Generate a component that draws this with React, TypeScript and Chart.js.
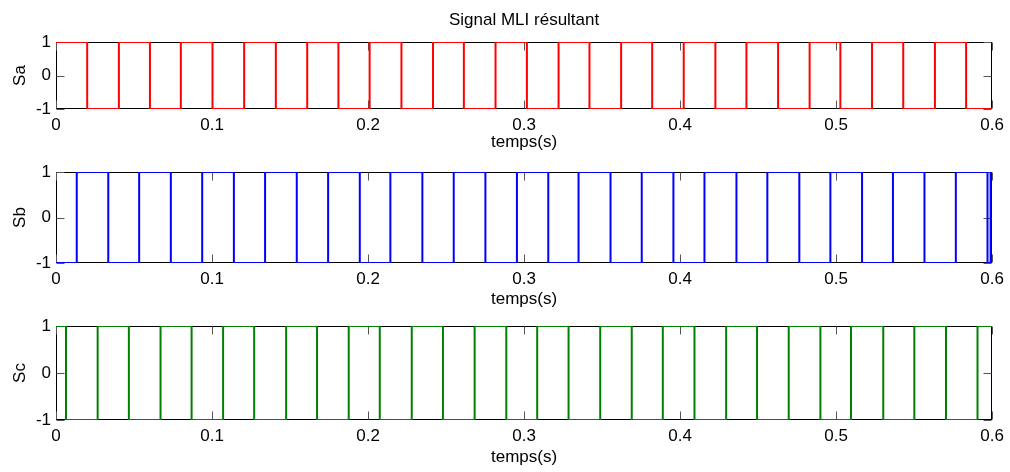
import React, { useEffect, useRef } from 'react';
import { Chart, registerables } from 'chart.js';

Chart.register(...registerables);

const xTickValues = [0, 0.1, 0.2, 0.3, 0.4, 0.5, 0.6];
const xTickLabels = ['0', '0.1', '0.2', '0.3', '0.4', '0.5', '0.6'];
const yTickValues = [-1, 0, 1];
const yTickLabels = ['-1', '0', '1'];

const saTimes = [0, 0.0200, 0.0403, 0.0602, 0.0800, 0.1003, 0.1206, 0.1409, 0.1610, 0.1810, 0.2010, 0.2214, 0.2416, 0.2614, 0.2817, 0.3018, 0.3221, 0.3419, 0.3622, 0.3821, 0.4023, 0.4226, 0.4425, 0.4628, 0.4830, 0.5027, 0.5230, 0.5430, 0.5633, 0.5833, 0.6];
const saValues = [1, -1, 1, -1, 1, -1, 1, -1, 1, -1, 1, -1, 1, -1, 1, -1, 1, -1, 1, -1, 1, -1, 1, -1, 1, -1, 1, -1, 1, -1, -1];

const sbTimes = [0, 0.0133, 0.0335, 0.0533, 0.0736, 0.0937, 0.1140, 0.1340, 0.1543, 0.1744, 0.1947, 0.2143, 0.2348, 0.2549, 0.2752, 0.2954, 0.3155, 0.3349, 0.3554, 0.3754, 0.3957, 0.4156, 0.4361, 0.4559, 0.4764, 0.4963, 0.5166, 0.5364, 0.5566, 0.5767, 0.5970, 0.5990, 0.6];
const sbValues = [-1, 1, -1, 1, -1, 1, -1, 1, -1, 1, -1, 1, -1, 1, -1, 1, -1, 1, -1, 1, -1, 1, -1, 1, -1, 1, -1, 1, -1, 1, -1, 1, 1];

const scTimes = [0, 0.0064, 0.0267, 0.0467, 0.0670, 0.0869, 0.1071, 0.1270, 0.1475, 0.1673, 0.1876, 0.2075, 0.2280, 0.2480, 0.2683, 0.2886, 0.3084, 0.3285, 0.3488, 0.3690, 0.3889, 0.4092, 0.4295, 0.4493, 0.4696, 0.4899, 0.5095, 0.5302, 0.5501, 0.5704, 0.5906, 0.6];
const scValues = [1, -1, 1, -1, 1, -1, 1, -1, 1, -1, 1, -1, 1, -1, 1, -1, 1, -1, 1, -1, 1, -1, 1, -1, 1, -1, 1, -1, 1, -1, 1, 1];

const FONT = "'Liberation Sans', Arial, Helvetica, sans-serif";

const boxPlugin = {
  id: 'matlabBox',
  beforeDatasetsDraw(chart: any) {
    const { ctx, chartArea: a, scales } = chart;
    const l = Math.round(a.left) + 0.5;
    const t = Math.round(a.top) + 0.5;
    const r = Math.round(a.right) - 0.5;
    const b = Math.round(a.bottom) - 0.5;
    ctx.save();
    ctx.strokeStyle = '#000';
    ctx.lineWidth = 1;
    ctx.strokeRect(l, t, r - l, b - t);
    ctx.strokeStyle = '#555';
    const len = 8;
    ctx.beginPath();
    scales.x.ticks.forEach((tk: any) => {
      const px = Math.round(scales.x.getPixelForValue(tk.value)) + 0.5;
      ctx.moveTo(px, b);
      ctx.lineTo(px, b - len);
      ctx.moveTo(px, t);
      ctx.lineTo(px, t + len);
    });
    scales.y.ticks.forEach((tk: any) => {
      const py = Math.round(scales.y.getPixelForValue(tk.value)) + 0.5;
      ctx.moveTo(l, py);
      ctx.lineTo(l + len, py);
      ctx.moveTo(r, py);
      ctx.lineTo(r - len, py);
    });
    ctx.stroke();
    ctx.restore();
  },
};

type Sub = {
  times: number[];
  values: number[];
  color: string;
  ylabel: string;
  top: number;
  height: number;
  padTop: number;
  padBottom: number;
  axisH: number;
  title?: string;
};

const subs: Sub[] = [
  { times: saTimes, values: saValues, color: '#ff0000', ylabel: 'Sa', top: 0, height: 160, padTop: 0, padBottom: 7, axisH: 44, title: 'Signal MLI résultant' },
  { times: sbTimes, values: sbValues, color: '#0000ff', ylabel: 'Sb', top: 150, height: 170, padTop: 22, padBottom: 10, axisH: 47 },
  { times: scTimes, values: scValues, color: '#008000', ylabel: 'Sc', top: 300, height: 172, padTop: 26, padBottom: 4, axisH: 48 },
];

function SubPlot({ sub }: { sub: Sub }) {
  const ref = useRef<HTMLCanvasElement>(null);
  useEffect(() => {
    if (!ref.current) return;
    const font = { family: FONT, size: 17, weight: 'normal' as const };
    const chart = new Chart(ref.current, {
      type: 'line',
      data: {
        datasets: [
          {
            data: sub.times.map((t, i) => ({ x: t, y: sub.values[i] })),
            borderColor: sub.color,
            borderWidth: 2,
            pointRadius: 0,
            stepped: 'before',
            fill: false,
            tension: 0,
          },
        ],
      },
      options: {
        animation: false,
        responsive: false,
        events: [],
        layout: { padding: { left: 0, right: 17, top: sub.padTop, bottom: sub.padBottom } },
        plugins: {
          legend: { display: false },
          tooltip: { enabled: false },
          title: sub.title
            ? {
                display: true,
                text: sub.title,
                color: '#000',
                font,
                fullSize: false,
                padding: { top: 9.8, bottom: 11.8 },
              }
            : { display: false },
        },
        scales: {
          x: {
            type: 'linear',
            min: 0,
            max: 0.6,
            afterBuildTicks: (s: any) => {
              s.ticks = xTickValues.map((v) => ({ value: v }));
            },
            afterFit: (s: any) => {
              s.height = sub.axisH;
            },
            ticks: {
              callback: (_v: any, i: number) => xTickLabels[i],
              color: '#000',
              font,
              padding: 6,
              maxRotation: 0,
              autoSkip: false,
            },
            grid: { display: false, drawTicks: false },
            border: { display: false },
            title: { display: true, text: 'temps(s)', color: '#000', font, padding: { top: 0, bottom: 0 } },
          },
          y: {
            type: 'linear',
            min: -1,
            max: 1,
            afterBuildTicks: (s: any) => {
              s.ticks = yTickValues.map((v) => ({ value: v }));
            },
            afterFit: (s: any) => {
              s.width = 56;
            },
            ticks: {
              callback: (_v: any, i: number) => yTickLabels[i],
              color: '#000',
              font,
              padding: 5,
              autoSkip: false,
            },
            grid: { display: false, drawTicks: false },
            border: { display: false },
            title: { display: true, text: sub.ylabel, color: '#000', font, padding: { top: 10, bottom: 0 } },
          },
        },
      } as any,
      plugins: [boxPlugin],
    });
    return () => chart.destroy();
  }, [sub]);
  return (
    <canvas
      ref={ref}
      width={1010}
      height={sub.height}
      style={{ position: 'absolute', left: 0, top: sub.top, width: 1010, height: sub.height, display: 'block' }}
    />
  );
}

export default function App() {
  return (
    <div style={{ position: 'absolute', left: 0, top: 0, width: 1010, height: 472, background: '#fff', overflow: 'hidden' }}>
      {subs.map((s, i) => (
        <SubPlot key={i} sub={s} />
      ))}
    </div>
  );
}
